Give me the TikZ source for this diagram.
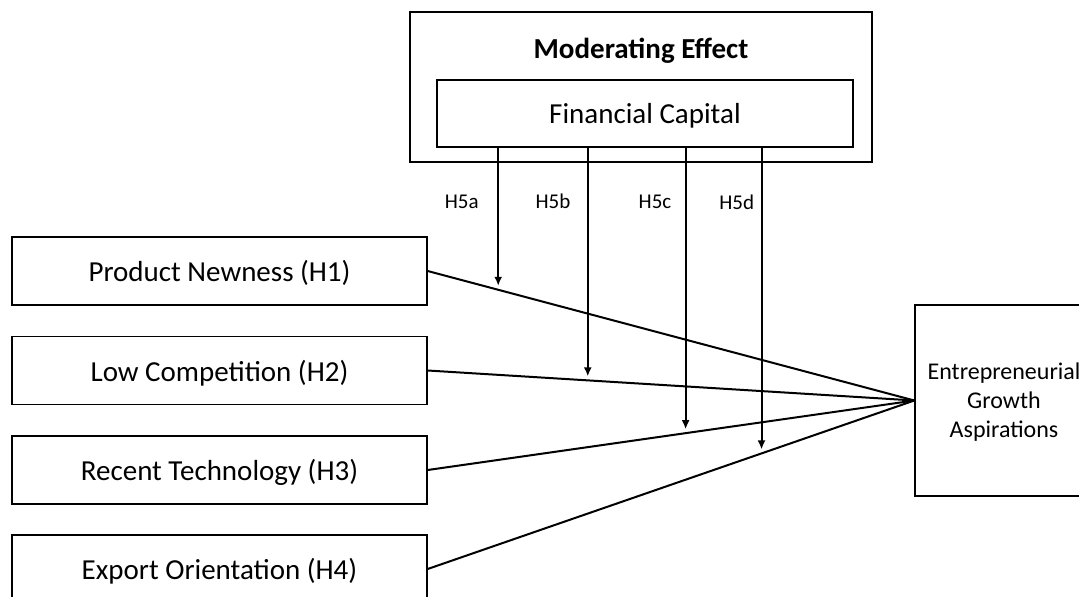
\documentclass[tikz,border=0pt]{standalone}
\usepackage{fontspec}
\setmainfont{Carlito}
\usetikzlibrary{arrows.meta}
\begin{document}
\begin{tikzpicture}[x=1pt,y=-1pt,
  caja/.style={draw, line width=1.3pt, inner sep=0pt, text depth=0pt, minimum width=415pt, minimum height=68pt, font=\fontsize{29}{34}\selectfont},
  linea/.style={line width=2pt},
  flecha/.style={line width=2pt, shorten >=4pt, -{Latex[length=9pt,width=8pt]}},
  etiq/.style={anchor=base, font=\fontsize{21}{25}\selectfont}]
% Marco fijo: (X,Y) en pixeles, Y hacia abajo
\useasboundingbox (0,0) rectangle (1079,597);
\clip (0,0) rectangle (1079,597);

% Caja del efecto moderador
\node[draw, line width=1.3pt, minimum width=462pt, minimum height=150pt] (mod) at (641,87) {};
\node[font=\bfseries\fontsize{29}{34}\selectfont] (titulo) at (641,51) {Moderating Effect};
\node[caja, minimum width=416pt, minimum height=67pt] (fin) at (645,113.5) {Financial Capital};

% Variables independientes
\node[caja] (pn) at (219.5,271) {Product Newness (H1)};
\node[caja] (lc) at (219.5,370.5) {Low Competition (H2)};
\node[caja] (rt) at (219.5,470) {Recent Technology (H3)};
\node[caja] (eo) at (219.5,569) {Export Orientation (H4)};

% Variable dependiente
\node[caja, minimum width=178pt, minimum height=191pt, align=center, font=\fontsize{24}{29}\selectfont] (ega) at (1004,400.5) {Entrepreneurial\\Growth\\Aspirations};

% Rectas hacia la variable dependiente
\draw[linea] (pn.east) -- coordinate[pos=0.145] (a) (ega.west);
\draw[linea] (lc.east) -- coordinate[pos=0.329] (b) (ega.west);
\draw[linea] (rt.east) -- coordinate[pos=0.530] (c) (ega.west);
\draw[linea] (eo.east) -- coordinate[pos=0.686] (d) (ega.west);

% Flechas del moderador
\draw[flecha] (a |- fin.south) -- (a);
\draw[flecha] (b |- fin.south) -- (b);
\draw[flecha] (c |- fin.south) -- (c);
\draw[flecha] (d |- fin.south) -- (d);

% Etiquetas
\node[etiq] (h5a) at (461.7,208) {H5a};
\node[etiq] (h5b) at (553,208) {H5b};
\node[etiq] (h5c) at (655,208) {H5c};
\node[etiq] (h5d) at (736.7,209) {H5d};
\end{tikzpicture}
\end{document}
